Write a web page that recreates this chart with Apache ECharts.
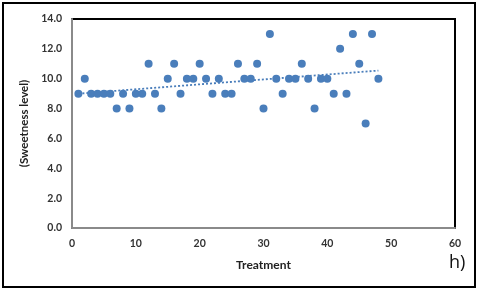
<!DOCTYPE html>
<html>
<head>
<meta charset="utf-8">
<script src="https://cdn.jsdelivr.net/npm/echarts@6/dist/echarts.min.js"></script>
<style>html,body{margin:0;padding:0;background:#fff}#c{width:480px;height:290px}</style>
</head>
<body>
<div id="c"></div>
<script>
var treatment = [1,2,3,4,5,6,7,8,9,10,11,12,13,14,15,16,17,18,19,20,21,22,23,24,25,26,27,28,29,30,31,32,33,34,35,36,37,38,39,40,41,42,43,44,45,46,47,48];
var sweetness = [9,10,9,9,9,9,8,9,8,9,9,11,9,8,10,11,9,10,10,11,10,9,10,9,9,11,10,10,11,8,13,10,9,10,10,11,10,8,10,10,9,12,9,13,11,7,13,10];
var xTicks = [0,10,20,30,40,50,60];
var yTicks = [0,2,4,6,8,10,12,14];
var xTitle = 'Treatment';
var yTitle = '(Sweetness level)';
var panelLabel = 'h)';

// linear trendline (least squares) derived from data
var n = treatment.length, sx=0, sy=0, sxx=0, sxy=0;
for (var i=0;i<n;i++){sx+=treatment[i];sy+=sweetness[i];sxx+=treatment[i]*treatment[i];sxy+=treatment[i]*sweetness[i];}
var slope = (n*sxy - sx*sy)/(n*sxx - sx*sx);
var icpt = (sy - slope*sx)/n;
var x0 = treatment[0], x1 = treatment[n-1];
var trend = [[x0, icpt+slope*x0],[x1, icpt+slope*x1]];

var pts = treatment.map(function(x,i){return [x, sweetness[i]];});
var font = 'Lato, "Open Sans", sans-serif';

var chart = echarts.init(document.getElementById('c'), null, {renderer:'canvas'});
chart.setOption({
  animation:false,
  backgroundColor:'#fff',
  grid:{left:72,top:19,right:25,bottom:62,show:true,borderColor:'#000',borderWidth:2,backgroundColor:'transparent'},
  xAxis:{type:'value',min:xTicks[0],max:xTicks[xTicks.length-1],interval:10,
    axisLine:{show:true,onZero:false,lineStyle:{color:'#8a8a8a',width:2}},
    axisTick:{show:false},splitLine:{show:false},
    axisLabel:{color:'#333',fontFamily:font,fontWeight:'bold',fontSize:10.5,margin:10},
    name:xTitle,nameLocation:'middle',nameGap:31,
    nameTextStyle:{color:'#222',fontFamily:font,fontWeight:'bold',fontSize:12}},
  yAxis:{type:'value',min:yTicks[0],max:yTicks[yTicks.length-1],interval:2,
    axisLine:{show:true,onZero:false,lineStyle:{color:'#8a8a8a',width:2}},
    axisTick:{show:false},splitLine:{show:false},
    axisLabel:{color:'#333',fontFamily:font,fontWeight:'bold',fontSize:10.5,margin:10,
      formatter:function(v){return v.toFixed(1);}},
    name:yTitle,nameLocation:'middle',nameGap:42,nameRotate:90,
    nameTextStyle:{color:'#222',fontFamily:font,fontWeight:'bold',fontSize:11.5}},
  graphic:[
    {type:'rect',shape:{x:3,y:3,width:472,height:284},style:{fill:'none',stroke:'#000',lineWidth:2},z:100},
    {type:'text',left:449,top:254,style:{text:panelLabel,fill:'#111',font:'18px "Open Sans", sans-serif'},z:100}
  ],
  series:[
    {type:'scatter',data:pts,symbol:'circle',symbolSize:8,itemStyle:{color:'#4a7ebb',opacity:1},z:3},
    {type:'line',data:trend,showSymbol:false,symbol:'none',lineStyle:{color:'#4a7ebb',width:1.8,type:[2,2]},z:2}
  ]
});
</script>
</body>
</html>
